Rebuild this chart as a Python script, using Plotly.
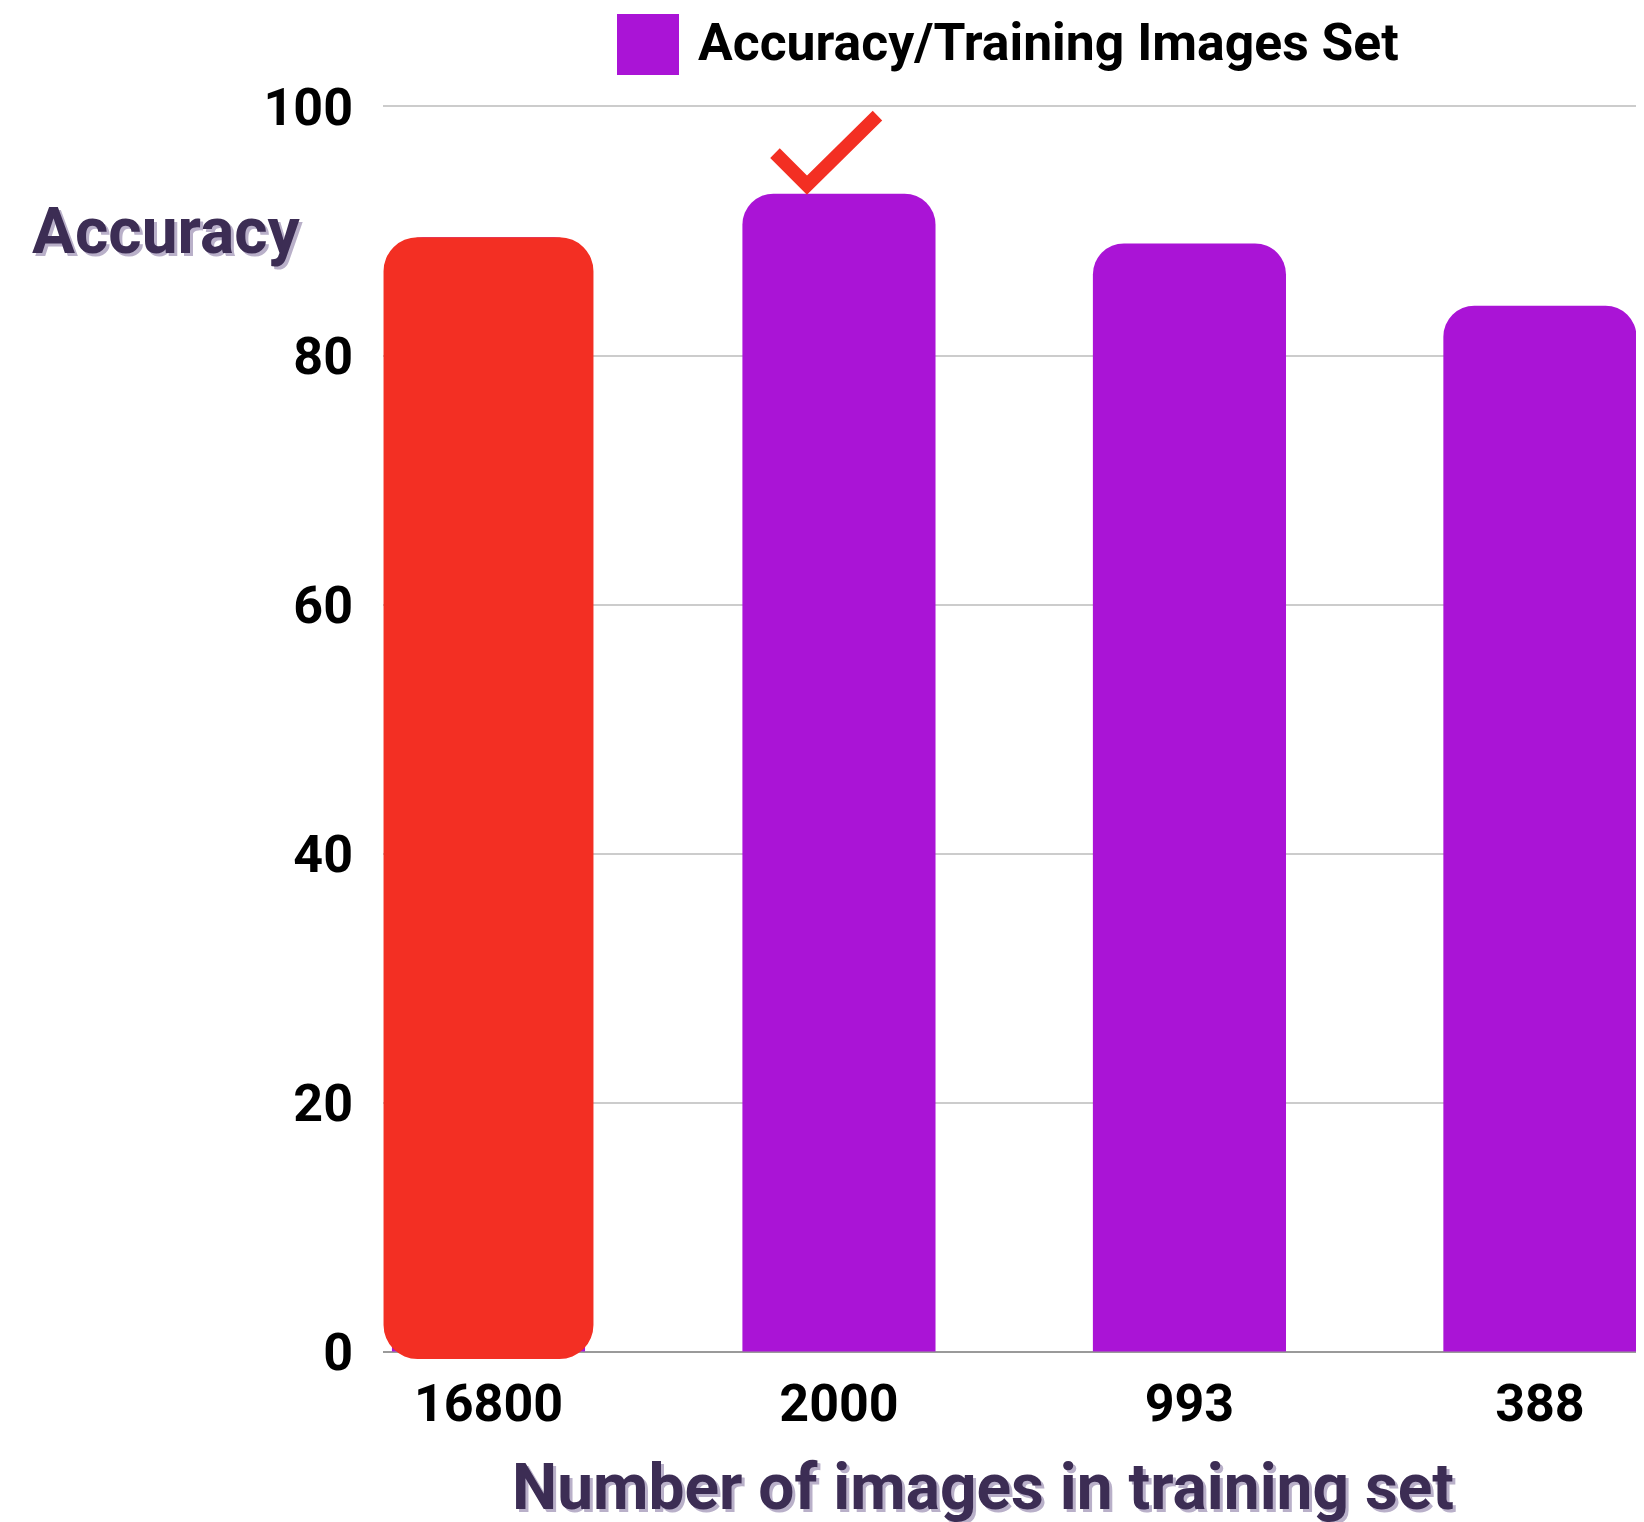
import plotly.graph_objects as go

# values
categories = ["16800", "2000", "993", "388"]
accuracy = [89.5, 93.0, 89.0, 84.0]
y_ticks = [0, 20, 40, 60, 80, 100]

# highlighted (full dataset) bar and the best result
highlight_category = "16800"
highlight_accuracy = 89.5
best_category = "2000"
best_accuracy = 93.0

legend_label = "Accuracy/Training Images Set"
y_title = "Accuracy"
x_title = "Number of images in training set"

PURPLE = "#AA14D6"
RED = "#F32F23"
TITLE_COLOR = "#3C2D54"
TITLE_SHADOW = "3px 3px 0px #b9b0c9"

# page body adds an 8px margin, so the figure is drawn that much smaller
OFF = 8
W, H = 1644 - OFF, 1522 - OFF
L, R, T, B = 375, 7, 96, 163
plot_w = W - L - R
plot_h = H - T - B


def px_x(px):
    # screen x (as in the reference) -> paper fraction
    return (px - OFF - L) / plot_w


def px_y(py):
    return (H - B - (py - OFF)) / plot_h


fig = go.Figure()

# main bars
fig.add_trace(go.Bar(
    x=categories,
    y=accuracy,
    width=0.551,
    name=legend_label,
    marker=dict(color=PURPLE, cornerradius=31, line=dict(width=0)),
    showlegend=False,
))

# red highlight: a slightly wider block that dips just below the baseline;
# with a base set, plotly rounds all four corners
dip = 0.6
fig.add_trace(go.Bar(
    x=[highlight_category],
    base=[-dip],
    y=[highlight_accuracy + dip],
    width=0.599,
    marker=dict(color=RED, cornerradius=34, line=dict(width=0)),
    showlegend=False,
))

# gridlines start at the purple bar's edge, not at the red block's edge
fig.add_shape(
    type="rect", xref="paper", yref="paper",
    x0=0, x1=px_x(391), y0=0, y1=1,
    fillcolor="white", line=dict(width=0),
    layer="between",
)

# check mark above the best bar (pixel offsets from its top)
fig.add_shape(
    type="path",
    xref="x", yref="y",
    xsizemode="pixel", ysizemode="pixel",
    xanchor=categories.index(best_category), yanchor=best_accuracy,
    path="M -64,40.5 L -32,8.5 L 38.5,78",
    line=dict(color=RED, width=13.5),
    layer="above",
)

# legend drawn by hand so the swatch can be large
fig.add_shape(
    type="rect", xref="paper", yref="paper",
    x0=px_x(617), x1=px_x(679), y0=px_y(75), y1=px_y(14),
    fillcolor=PURPLE, line=dict(width=0),
)
fig.add_annotation(
    x=px_x(696), y=px_y(42), xref="paper", yref="paper",
    xanchor="left", yanchor="middle", showarrow=False,
    text=legend_label,
    font=dict(family="Roboto", size=51.7, weight="bold", color="black"),
)

# axis titles
fig.add_annotation(
    x=px_x(30), y=px_y(232), xref="paper", yref="paper",
    xanchor="left", yanchor="middle", showarrow=False,
    text=y_title,
    font=dict(family="Roboto", size=64, weight="bold", color=TITLE_COLOR,
              shadow=TITLE_SHADOW),
)
fig.add_annotation(
    x=px_x(983), y=px_y(1487), xref="paper", yref="paper",
    xanchor="center", yanchor="middle", showarrow=False,
    text=x_title,
    font=dict(family="Roboto", size=64, weight="bold", color=TITLE_COLOR,
              shadow=TITLE_SHADOW),
)

fig.update_layout(
    width=W, height=H,
    margin=dict(l=L, r=R, t=T, b=B, pad=0),
    barmode="overlay",
    plot_bgcolor="white",
    paper_bgcolor="white",
    font=dict(family="Roboto", color="black"),
    showlegend=False,
)

fig.update_xaxes(
    type="category",
    range=[-0.301, 3.277],
    showgrid=False, showline=False, zeroline=False,
    ticks="",
    ticklabelstandoff=9,
    tickfont=dict(family="Roboto", size=52, weight="bold", color="black"),
)

fig.update_yaxes(
    range=[-0.6, 100.2],
    tickvals=y_ticks,
    showgrid=True, gridcolor="#cccccc", gridwidth=1.5,
    zeroline=True, zerolinecolor="#9a9a9a", zerolinewidth=2,
    showline=False,
    ticks="",
    ticklabelstandoff=29,
    tickfont=dict(family="Roboto", size=52, weight="bold", color="black"),
)

fig.write_html("out.html")
